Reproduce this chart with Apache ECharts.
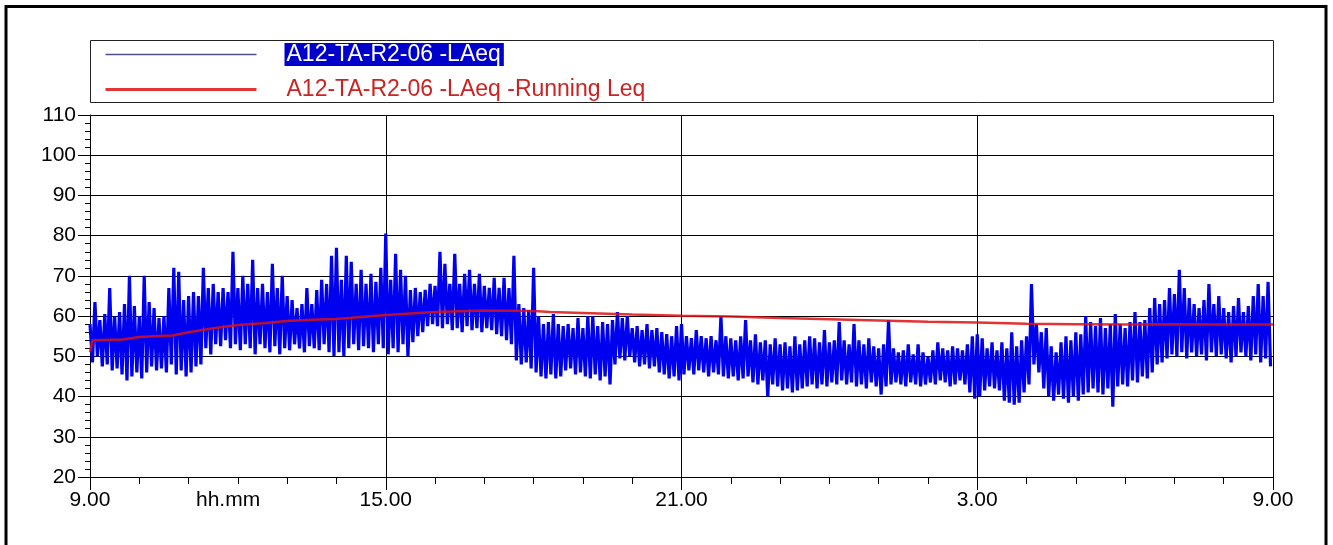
<!DOCTYPE html>
<html><head><meta charset="utf-8">
<script src="https://cdn.jsdelivr.net/npm/echarts@6.0.0/dist/echarts.min.js"></script>
<style>html,body{margin:0;padding:0;background:#fff}#c{width:1333px;height:545px}</style>
</head><body><div id="c"></div>
<script>
// ---- data ----
const xTickLabels = ['9.00', '15.00', '21.00', '3.00', '9.00'];   // every 6 hours (360 min)
const seriesNames = ['A12-TA-R2-06 -LAeq', 'A12-TA-R2-06 -LAeq -Running Leq'];
const binMinutes = 6; // one high/low pair per 6 minutes from 9.00
const laeqMax = [
 58,63.5,59,60.5,67,60,61,63,70,62.5,60,70,63.5,62,59.5,60,67,72,71,64,65,66,65,72,67,68,66,67,66,76,67,70,68,74,67,68,66,73,67,70,65,64,62,63,67,63,66.5,69,
 68,75,77,69,75,73.5,68,71.5,68,70.5,68.5,72,80.5,69,75.5,71.5,70,66.5,67,66,66.5,68,67.5,76,73,68,75.5,68,70.5,71.5,68,70.5,67.5,67,69.5,67,69.5,67,75,63,62,61.5,72,60,58,58.5,60.5,58,
 57.5,58,57,59.5,57,60,60,57.5,58.5,58,59,61,59.5,60,57,57.5,56.5,58,56.5,57,56,55.5,55,57.5,58,55,54.5,56.5,55,54.5,55,54,60,55,54.5,54,55,59,54,55.5,53.5,54,53,54.5,53,53.5,52.5,55,53,
 54,55,54.5,53.5,56.5,53.5,54,58.5,54,53,58,54,53,54.5,52.5,52,53,59,52,51,51.5,53,50.5,53,51,50,51.5,53.5,52,51.5,52.5,52,51.5,53,55,55.5,54.5,52,53.5,51.5,53.5,52,56,52.5,54,55,68,58,
 56,57,52.5,51,53.5,55,54,56,55.5,60,58.5,57.5,59.5,57,58,60.5,58,57,58.5,61,58.5,59,62,64.5,63,64,67,65.5,71.5,67,64.5,63,62,64,68,63,65,62,61,62.5,64.5,61,62.5,65,68,65,68.5
];
const laeqMin = [
 48.5,50,47.5,48,46.5,47,45.5,44,45,46,44.5,46,47.5,46.5,47,46,48,45.5,46.5,45,46,47.5,48,52,50.5,53,52.5,54,52,53,51.5,53,52,50.5,53,52,51,52.5,50.5,52,51.5,53,52,51,52.5,52,51.5,53,
 51,50,51,50,52,53,51.5,52.5,52,51,53,52,50.5,52,51,53,50,53.5,55,56,57.5,58,57.5,57,58,56.5,57,56,57.5,56.5,57,56,57,56.5,55.5,55,54,53,49,48,48.5,47,46,45,44.5,45.5,44.5,45,
 46.5,47,45.5,46,45,44.5,45.5,44,45,43,48,49.5,49,50,48.5,47.5,48,47,47.5,46,45.5,44.5,45,44,45.5,46.5,45.5,46.5,46,45,46,45.5,45,44.5,45,44,44.5,45,43.5,43,44,40,43,42.5,41.5,42,41,41.5,42,
 42.5,43,42,43,42.5,43.5,43,44,43,43.5,42.5,43,42,43.5,42.5,40.5,42.5,43,43.5,43,42.5,43.5,43,42.5,43,43.5,43,44,43.5,42.5,43,44,43,41,39.5,40,41.5,42.5,42,41.5,39,38.5,38,38.5,41,43,48,46,
 42,40,39,40.5,39.5,38.5,40,39,40.5,41,42,41,40.5,42,37.5,42.5,43,42.5,44,43.5,45,44.5,46,48,48.5,49.5,50.5,50,51,49.5,51,50,50.5,49,51,50,50.5,49.5,48.5,50,51,50,49,50.5,48.5,49.5,47.5
];
const runningTimes  = [0, 3, 40, 60, 90, 100, 120, 150, 180, 210, 240, 270, 300, 360, 420, 480, 540, 560, 600, 660, 720, 780, 840, 900, 960, 1020, 1080, 1140, 1200, 1260, 1320, 1380, 1440];
const runningValues = [51, 54, 54.2, 54.8, 55.1, 55.2, 56, 57, 57.8, 58.2, 58.8, 59.1, 59.3, 60.3, 61.0, 61.4, 61.3, 61.0, 60.8, 60.4, 60.1, 59.9, 59.5, 59.2, 58.9, 58.6, 58.4, 58.1, 58.0, 57.9, 58.0, 57.9, 57.9];

// ---- build series data from the arrays ----
const laeqData = [];
laeqMax.forEach((v, i) => {
  laeqData.push([i * binMinutes, v]);
  laeqData.push([i * binMinutes + binMinutes / 2, laeqMin[i]]);
});
const runningData = runningTimes.map((t, i) => [t, runningValues[i]]);

const FONT = "'Liberation Sans', Arial, sans-serif";
const chart = echarts.init(document.getElementById('c'), null, {renderer: 'canvas'});
const option = {
  animation: false,
  backgroundColor: '#ffffff',
  textStyle: {fontFamily: FONT},
  grid: {left: 90, top: 115, width: 1183, height: 362, show: false},
  xAxis: {
    type: 'value', min: 0, max: 1440, interval: 360,
    axisLine: {show: true, onZero: false, lineStyle: {color: '#000', width: 1}},
    axisTick: {show: true, length: 13, lineStyle: {color: '#000', width: 1}},
    minorTick: {show: true, splitNumber: 6, length: 7, lineStyle: {color: '#000', width: 1}},
    splitLine: {show: true, lineStyle: {color: '#000', width: 1}},
    minorSplitLine: {show: false},
    axisLabel: {fontSize: 21, color: '#000', margin: 13, fontFamily: FONT,
      formatter: v => xTickLabels[Math.round(v / 360)]}
  },
  yAxis: {
    type: 'value', min: 20, max: 110, interval: 10,
    axisLine: {show: true, onZero: false, lineStyle: {color: '#000', width: 1}},
    axisTick: {show: true, length: 12, lineStyle: {color: '#000', width: 1}},
    minorTick: {show: true, splitNumber: 5, length: 5, lineStyle: {color: '#000', width: 1}},
    splitLine: {show: true, lineStyle: {color: '#000', width: 1}},
    axisLabel: {fontSize: 21, color: '#000', margin: 14, fontFamily: FONT}
  },
  legend: {
    show: true, orient: 'vertical', left: 104, top: 43, itemWidth: 151, itemHeight: 24, itemGap: 12,
    selectedMode: false, padding: 0,
    data: [
      {name: seriesNames[0], lineStyle: {color: '#50508a', width: 1.5}, itemStyle: {opacity: 0}},
      {name: seriesNames[1], lineStyle: {color: '#dd1111', width: 3}, itemStyle: {opacity: 0}}
    ],
    formatter: name => name === seriesNames[0] ? '{sp|}{hl|' + name + '}' : '{sp|}{rd|' + name + '}',
    textStyle: {fontFamily: FONT, fontSize: 23,
      rich: {
        sp: {width: 23},
        hl: {color: '#ffffff', backgroundColor: '#0000cc', padding: [0, 3, 0, 2], fontSize: 23, lineHeight: 21, fontFamily: FONT},
        rd: {color: '#cc2222', padding: [0, 0, 0, 2], fontSize: 23, lineHeight: 21, fontFamily: FONT}
      }}
  },
  graphic: [
    {type: 'rect', silent: true, z: 100, shape: {x: 6, y: 6.5, width: 1320, height: 700},
     style: {fill: 'none', stroke: '#000', lineWidth: 3}},
    {type: 'rect', silent: true, z: 1, shape: {x: 90.5, y: 40.5, width: 1183, height: 62},
     style: {fill: 'none', stroke: '#222', lineWidth: 1}},
    {type: 'text', silent: true, left: 196, top: 490,
     style: {text: 'hh.mm', fontSize: 21, fontFamily: FONT, fill: '#000'}}
  ],
  series: [
    {name: seriesNames[0], type: 'line', data: laeqData, symbol: 'none', showSymbol: false,
     sampling: null, lineStyle: {color: '#0000f0', width: 3.2, join: 'bevel'}, itemStyle: {color: '#0000f0'}, z: 2},
    {name: seriesNames[1], type: 'line', data: runningData, symbol: 'none', showSymbol: false,
     lineStyle: {color: '#dd1111', width: 2.5, opacity: 0.85}, itemStyle: {color: '#dd1111'}, z: 3}
  ]
};
chart.setOption(option);
</script>
</body></html>
